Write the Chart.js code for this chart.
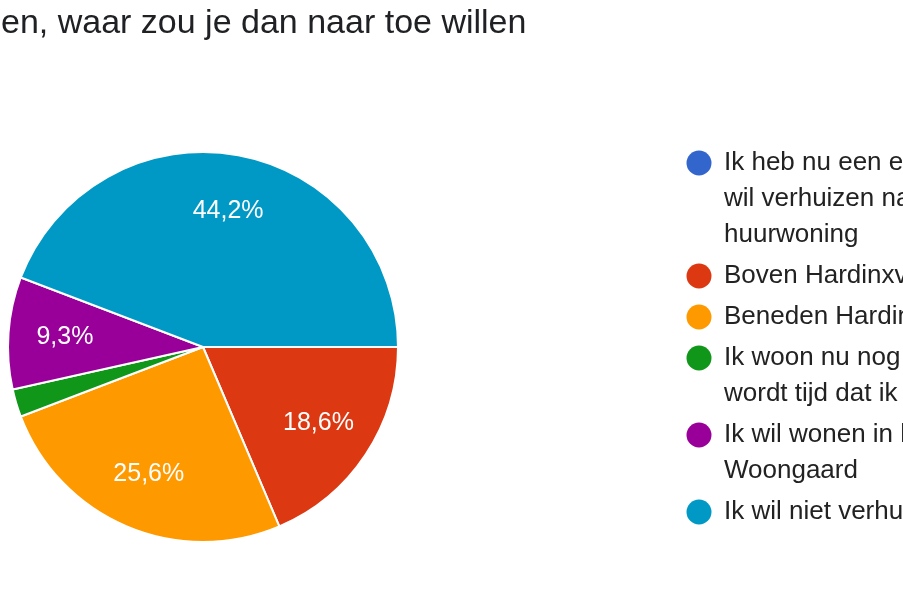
<!DOCTYPE html>
<html>
<head>
<meta charset="utf-8">
<script src="https://cdn.jsdelivr.net/npm/chart.js@4"></script>
<style>
  html, body { margin: 0; padding: 0; background: #fff; overflow: hidden; }
  #wrap { position: relative; width: 903px; height: 598px; }
</style>
</head>
<body>
<div id="wrap"><canvas id="myChart" width="903" height="598"></canvas></div>
<script>
  const titleText = 'en, waar zou je dan naar toe willen';

  const labels = [
    ['Ik heb nu een eigen woning en', 'wil verhuizen naar een', 'huurwoning'],
    ['Boven Hardinxveld'],
    ['Beneden Hardinxveld'],
    ['Ik woon nu nog thuis en het', 'wordt tijd dat ik ga verhuizen'],
    ['Ik wil wonen in het project', 'Woongaard'],
    ['Ik wil niet verhuizen'],
  ];

  const percentages = [0, 18.6, 25.6, 2.3, 9.3, 44.2];

  const colors = ['#3366cc', '#dc3912', '#ff9900', '#109618', '#990099', '#0099c6'];

  const FONT = '"Liberation Sans", Arial, sans-serif';

  // slice labels like "44,2%"
  const sliceLabels = {
    id: 'sliceLabels',
    afterDatasetsDraw(chart) {
      const ctx = chart.ctx;
      const meta = chart.getDatasetMeta(0);
      ctx.save();
      ctx.fillStyle = '#fff';
      ctx.font = '25px ' + FONT;
      ctx.textAlign = 'center';
      ctx.textBaseline = 'middle';
      meta.data.forEach((arc, i) => {
        const v = percentages[i];
        if (v < 5) return;
        const mid = (arc.startAngle + arc.endAngle) / 2;
        const r = arc.outerRadius * 0.71;
        ctx.fillText(v.toFixed(1).replace('.', ',') + '%', arc.x + Math.cos(mid) * r, arc.y + Math.sin(mid) * r);
      });
      ctx.restore();
    }
  };

  // title + wrapped legend on the right
  const sideText = {
    id: 'sideText',
    afterDraw(chart) {
      const ctx = chart.ctx;
      ctx.save();
      ctx.fillStyle = '#202124';
      ctx.font = '34px ' + FONT;
      ctx.textBaseline = 'alphabetic';
      ctx.fillText(titleText, 1, 33);

      ctx.font = '26px ' + FONT;
      ctx.textBaseline = 'middle';
      let y = 163;
      labels.forEach((lines, i) => {
        ctx.fillStyle = colors[i];
        ctx.beginPath();
        ctx.arc(699, y, 12.5, 0, Math.PI * 2);
        ctx.fill();
        ctx.fillStyle = '#222';
        lines.forEach((line, j) => {
          ctx.fillText(line, 724, y + j * 36);
        });
        y += (lines.length - 1) * 36 + 41;
      });
      ctx.restore();
    }
  };

  const data = {
    labels: labels,
    datasets: [{
      data: percentages,
      backgroundColor: colors,
      borderColor: '#fff',
      borderWidth: 2,
    }]
  };

  const config = {
    type: 'pie',
    data: data,
    plugins: [sliceLabels, sideText],
    options: {
      responsive: false,
      animation: false,
      rotation: 90,
      layout: {
        padding: { left: 7, right: 504, top: 151, bottom: 55 }
      },
      plugins: {
        legend: { display: false },
        tooltip: { enabled: false },
      }
    }
  };

  const myChart = new Chart(
    document.getElementById('myChart'),
    config
  );
</script>
</body>
</html>
